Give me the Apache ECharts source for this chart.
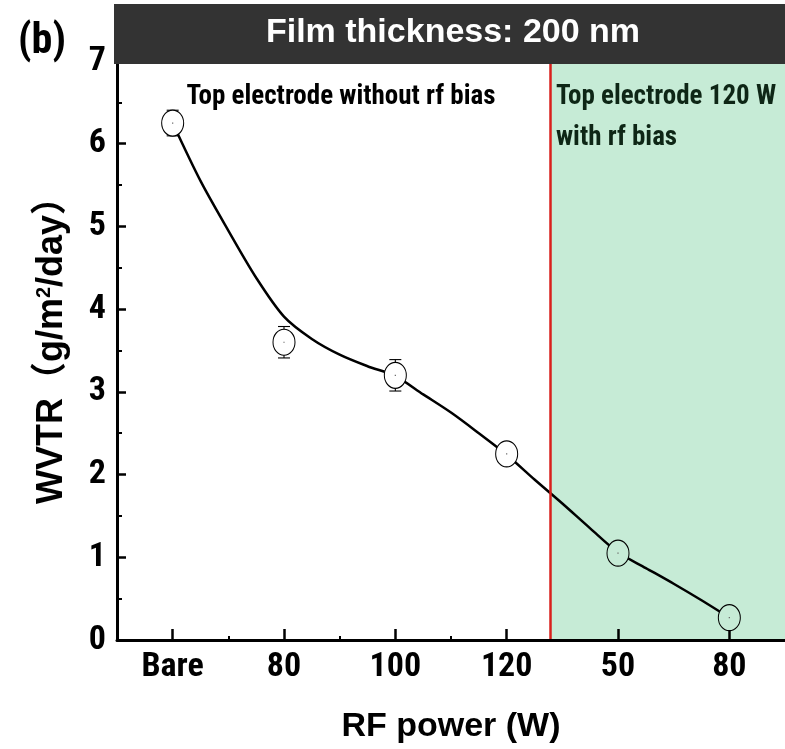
<!DOCTYPE html>
<html>
<head>
<meta charset="utf-8">
<script src="https://cdn.jsdelivr.net/npm/echarts@6/dist/echarts.min.js"></script>
<style>html,body{margin:0;padding:0;background:#fff;}#c{width:785px;height:749px;}</style>
</head>
<body>
<div id="c"></div>
<script>
const categories = ['Bare', '80', '100', '120', '50', '80'];
const wvtr = [6.25, 3.6, 3.2, 2.25, 1.05, 0.27];
const wvtrErr = [0.155, 0.19, 0.19, 0.05, 0.08, 0.08];
const fitX = [0, 0.25, 0.5, 0.75, 1, 1.25, 1.5, 1.75, 2, 2.25, 2.5, 2.75, 3, 3.25, 3.5, 3.75, 4, 4.25, 4.5, 4.75, 5];
const fitY = [6.25, 5.55, 4.95, 4.38, 3.91, 3.64, 3.45, 3.31, 3.19, 2.97, 2.75, 2.5, 2.24, 1.94, 1.65, 1.35, 1.06, 0.87, 0.68, 0.48, 0.27];
const yTicks = [0, 1, 2, 3, 4, 5, 6, 7];
const biasStart = 3.39;

const COND = "'Roboto Condensed','Liberation Sans Narrow',sans-serif";
const ARIAL = "'Liberation Sans','Noto Sans CJK SC',sans-serif";
const GREEN = '#c6ebd6';

const chart = echarts.init(document.getElementById('c'), null, {renderer: 'canvas'});

const pts = wvtr.map((v, i) => ({
  value: [i, v],
  itemStyle: {color: i < biasStart ? '#ffffff' : GREEN}
}));
const errData = wvtr.map((v, i) => [i, v - wvtrErr[i], v + wvtrErr[i], v]);
const fitData = fitX.map((x, i) => [x, fitY[i]]);

const option = {
  animation: false,
  backgroundColor: '#ffffff',
  grid: {left: 117, right: -4, top: 61, bottom: 108, containLabel: false},
  xAxis: [
    {
      type: 'category', data: categories, boundaryGap: true, position: 'bottom',
      name: 'RF power (W)', nameLocation: 'middle', nameGap: 70,
      nameTextStyle: {fontFamily: ARIAL, fontWeight: 'bold', fontSize: 34, color: '#000'},
      axisLine: {show: true, onZero: false, lineStyle: {color: '#000', width: 3}},
      axisTick: {show: true, alignWithLabel: true, inside: true, length: 11, lineStyle: {color: '#000', width: 2.5}},
      axisLabel: {fontFamily: COND, fontWeight: 'bold', fontSize: 34, color: '#000', margin: 10},
      splitLine: {show: false}, z: 5
    },
    {
      type: 'value', min: -0.5, max: 5.5, interval: 1, position: 'bottom', show: true,
      axisLine: {show: false, onZero: false},
      axisTick: {show: true, inside: true, length: 4, lineStyle: {color: '#000', width: 2}},
      axisLabel: {show: false}, splitLine: {show: false}
    }
  ],
  yAxis: {
    type: 'value', min: 0, max: 7, interval: 1,
    name: '{a|WVTR（g/m}{s|2}{a|/day）}', nameLocation: 'middle', nameGap: 47, nameRotate: 90,
    nameTextStyle: {
      padding: [0, 0, 0, 18],
      rich: {
        a: {fontFamily: ARIAL, fontWeight: 'bold', fontSize: 36, color: '#000'},
        s: {fontFamily: ARIAL, fontWeight: 'bold', fontSize: 20, color: '#000', verticalAlign: 'top', padding: [0, 0, 16, 0]}
      }
    },
    axisLine: {show: true, onZero: false, lineStyle: {color: '#000', width: 3}},
    axisTick: {show: true, inside: true, length: 9, lineStyle: {color: '#000', width: 2.5}},
    minorTick: {show: true, splitNumber: 2, length: 5, lineStyle: {color: '#000', width: 2}},
    axisLabel: {fontFamily: COND, fontWeight: 'bold', fontSize: 34, color: '#000', margin: 11,
      formatter: v => yTicks.includes(v) ? String(v) : ''},
    splitLine: {show: false}, z: 5
  },
  series: [
    {
      type: 'line', xAxisIndex: 1, data: fitData, smooth: 0.3, symbol: 'none',
      lineStyle: {color: '#000', width: 2.5}, z: 3,
      markArea: {silent: true, itemStyle: {color: GREEN}, z: 1,
        data: [[{xAxis: biasStart}, {xAxis: 5.5}]]},
      markLine: {silent: true, symbol: 'none', label: {show: false},
        lineStyle: {color: '#d9201c', width: 2.5, type: 'solid'},
        data: [{xAxis: biasStart}]}
    },
    {
      type: 'custom', xAxisIndex: 1, data: errData, z: 5,
      renderItem: (params, api) => {
        const x = api.value(0);
        const lo = api.coord([x, api.value(1)]);
        const hi = api.coord([x, api.value(2)]);
        const w = 6;
        const st = {stroke: '#000', lineWidth: 1.1};
        return {type: 'group', children: [
          {type: 'line', shape: {x1: lo[0], y1: lo[1], x2: hi[0], y2: hi[1]}, style: st},
          {type: 'line', shape: {x1: lo[0]-w, y1: lo[1], x2: lo[0]+w, y2: lo[1]}, style: st},
          {type: 'line', shape: {x1: hi[0]-w, y1: hi[1], x2: hi[0]+w, y2: hi[1]}, style: st}
        ]};
      }
    },
    {
      type: 'scatter', xAxisIndex: 1, data: pts, symbol: 'circle', symbolSize: [22, 26], z: 6,
      itemStyle: {borderColor: '#000', borderWidth: 1.1, opacity: 1}
    },
    {
      type: 'custom', xAxisIndex: 1, data: errData, z: 7,
      renderItem: (params, api) => {
        const c = api.coord([api.value(0), api.value(3)]);
        return {type: 'rect', shape: {x: c[0] - 0.6, y: c[1] - 0.6, width: 1.2, height: 1.2}, style: {fill: '#666'}};
      }
    }
  ],
  graphic: [
    {type: 'rect', left: 114, top: 4, shape: {width: 671, height: 60}, style: {fill: '#333333'}, z: 10},
    {type: 'text', x: 453, y: 33, z: 11, style: {text: 'Film thickness: 200 nm', fill: '#ffffff', font: "bold 34px " + ARIAL, align: 'center', verticalAlign: 'middle'}},
    {type: 'text', x: 42, y: 42, z: 11, style: {text: '(b)', fill: '#000', font: "bold 42px " + COND, align: 'center', verticalAlign: 'middle'}},
    {type: 'text', x: 341, y: 97, z: 11, style: {text: 'Top electrode without rf bias', fill: '#000', font: "bold 27px " + COND, align: 'center', verticalAlign: 'middle'}},
    {type: 'text', x: 556, y: 97, z: 11, style: {text: 'Top electrode 120 W', fill: '#0e2616', font: "bold 27px " + COND, align: 'left', verticalAlign: 'middle'}},
    {type: 'text', x: 556, y: 138, z: 11, style: {text: 'with rf bias', fill: '#0e2616', font: "bold 27px " + COND, align: 'left', verticalAlign: 'middle'}}
  ]
};
chart.setOption(option);
</script>
</body>
</html>
